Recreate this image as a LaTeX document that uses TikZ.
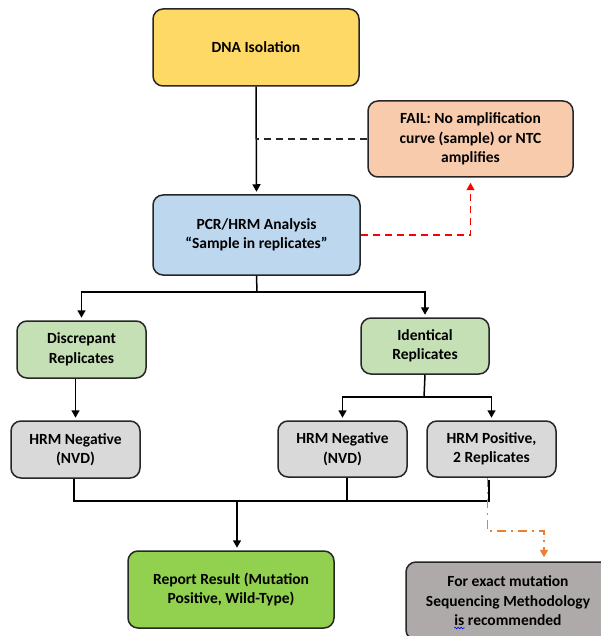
\documentclass[tikz,border=0pt]{standalone}
\usepackage{fontspec}
\setmainfont{Carlito}
\usetikzlibrary{arrows.meta,calc,decorations.pathmorphing}
\definecolor{cyellow}{HTML}{FFD966}
\definecolor{cpeach}{HTML}{F8CBAD}
\definecolor{cblue}{HTML}{BDD7EE}
\definecolor{clgreen}{HTML}{C5E0B4}
\definecolor{clgray}{HTML}{D9D9D9}
\definecolor{cgreen}{HTML}{92D050}
\definecolor{cdgray}{HTML}{AEAAAA}
\definecolor{cborder}{HTML}{262626}
\definecolor{corange}{HTML}{ED7D31}
\definecolor{cred}{HTML}{FF0000}
\tikzset{
  boxfont/.style={font=\fontsize{15.5}{19.5}\selectfont\bfseries},
  box/.style={boxfont, draw=cborder, line width=1.5pt, rounded corners=10pt, align=center, inner sep=2pt},
  conn/.style={draw=black, line width=1.5pt},
  arr/.style={conn, -{Triangle[width=8pt,length=7.5pt]}, shorten >=2.5pt},
  blackdash/.style={draw=cborder, line width=1.5pt, dash pattern=on 7pt off 5pt},
  reddash/.style={draw=cred, line width=1.5pt, dash pattern=on 7pt off 5pt, -{Triangle[width=8pt,length=7.5pt]}, shorten >=5pt},
  orangedd/.style={draw=corange, line width=1.5pt, dash pattern=on 9pt off 5pt on 2pt off 5pt, -{Triangle[width=8pt,length=7.5pt]}, shorten >=4pt},
  squiggle/.style={draw=blue, line width=0.6pt, decorate, decoration={snake, amplitude=0.8pt, segment length=3pt}},
}
\begin{document}
\begin{tikzpicture}[x=1pt,y=-1pt]
\useasboundingbox (0,0) rectangle (601,636);
\clip (0,0) rectangle (601,636);
\fill[white] (0,0) rectangle (601,636);
% boxes
\node[box, fill=cyellow, minimum width=206pt, minimum height=77pt] (dna) at (256,47.5) {DNA Isolation};
\node[box, fill=cpeach, minimum width=205pt, minimum height=76pt] (fail) at (470.5,139) {FAIL: No amplification\\curve (sample) or NTC\\amplifies};
\node[box, fill=cblue, minimum width=207pt, minimum height=80pt] (pcr) at (256.5,235) {PCR/HRM Analysis\\“Sample in replicates”};
\node[box, fill=clgreen, minimum width=129pt, minimum height=57pt] (disc) at (81.5,349.5) {Discrepant\\Replicates};
\node[box, fill=clgreen, minimum width=128pt, minimum height=56pt] (iden) at (425,346) {Identical\\Replicates};
\node[box, fill=clgray, minimum width=129pt, minimum height=57pt] (hneg1) at (75.5,449.5) {HRM Negative\\(NVD)};
\node[box, fill=clgray, minimum width=129pt, minimum height=56pt] (hneg2) at (342.5,449) {HRM Negative\\(NVD)};
\node[box, fill=clgray, minimum width=129pt, minimum height=56pt] (hpos) at (491.5,449) {HRM Positive,\\2 Replicates};
\node[box, fill=cgreen, minimum width=206pt, minimum height=77pt] (report) at (231,589.5) {Report Result (Mutation\\Positive, Wild-Type)};
\node[box, fill=cdgray, minimum width=204pt, minimum height=78pt] (seq) at (508,601) {For exact mutation\\Sequencing Methodology\\is recommended};
% spell-check squiggle under "is"
\node[boxfont, inner sep=0pt, anchor=base] (l3) at ($(seq.center)+(0,24)$) {\phantom{is recommended}};
\node[boxfont, inner sep=0pt, anchor=base west] (isw) at (l3.base west) {\phantom{is}};
\draw[squiggle] ($(isw.base west)+(0,3)$) -- ($(isw.base east)+(0,3)$);
% connectors
\coordinate (j1) at (dna.south |- fail.west);
\draw[arr] (dna.south) -- (pcr.north);
\draw[blackdash] (fail.west) -- (j1);
\draw[reddash] (pcr.east) -| (fail.south);
\coordinate (b1) at (257,292);
\draw[conn] (pcr.south) -- (b1);
\draw[arr] (b1) -| (disc.north);
\draw[arr] (b1) -| (iden.north);
\draw[arr] (disc.south -| hneg1.north) -- (hneg1.north);
\coordinate (b2) at (424,397);
\draw[conn] (iden.south) -- (b2);
\draw[arr] (b2) -| (hneg2.north);
\draw[arr] (b2) -| (hpos.north);
% merge
\coordinate (m) at (237,501);
\coordinate (p1) at ($(hneg1.south)+(-1.5,0)$);
\coordinate (p2) at ($(hneg2.south)+(4.5,0)$);
\coordinate (p3) at ($(hpos.south)+(-2.5,2)$);
\draw[conn] (p1) -- (p1 |- m) -- (p3 |- m) -- (p3);
\draw[conn] (p2) -- (p2 |- m);
\draw[arr] (m) -- (m |- report.north);
% orange
\coordinate (o1) at ($(hpos.south)+(-4,0)$);
\coordinate (o2) at (544,531);
\draw[orangedd] (o1) |- (o2) -- (o2 |- seq.north);
\end{tikzpicture}
\end{document}
